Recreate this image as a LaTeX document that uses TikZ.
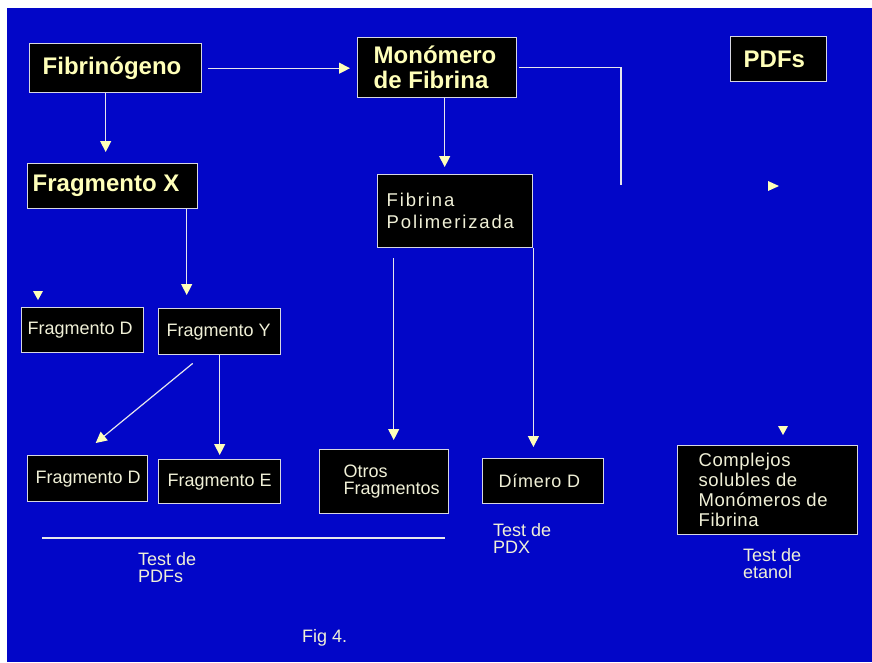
\documentclass[tikz,border=0pt]{standalone}
\usepackage{fontspec}
\setmainfont{Liberation Sans}
\usetikzlibrary{arrows.meta}
\definecolor{bg}{RGB}{2,6,200}
\definecolor{edge}{RGB}{215,215,225}
\definecolor{ylw}{RGB}{255,255,185}
\definecolor{crm}{RGB}{240,240,215}
\definecolor{lnc}{RGB}{230,230,235}
\newcommand\bxt[3]{\parbox{#1pt}{\raggedright\leftskip=#2pt\relax #3}}
\begin{document}
\begin{tikzpicture}[x=1pt,y=-1pt,
  bx/.style={draw=edge, line width=1.4pt, fill=black, inner sep=0pt, anchor=north west},
  boldt/.style={font=\fontsize{24}{25}\selectfont\bfseries, text=ylw},
  regt/.style={font=\fontsize{18}{18}\selectfont, text=crm},
  arr/.style={draw=lnc, line width=1.2pt, -{Triangle[length=11pt,width=11pt,color=ylw]}},
  ln/.style={draw=lnc, line width=1.2pt},
  lbl/.style={anchor=north west, inner sep=0pt, align=left, text=crm, font=\fontsize{18}{17}\selectfont}]
\useasboundingbox (0,0) rectangle (872,662);
\fill[white] (0,0) rectangle (872,662);
\fill[bg] (7,8) rectangle (872,662);

% boxes
\node[bx, boldt, minimum height=49pt] (fib) at (29,43) {\bxt{172}{13}{Fibrinógeno}};
\node[bx, boldt, minimum height=60pt] (mon) at (357,37) {\bxt{159}{16}{Monómero\\de Fibrina}};
\node[bx, boldt, minimum height=45pt] (pdfs) at (730,36) {\bxt{96}{13}{PDFs}};
\node[bx, boldt, minimum height=45pt] (fragx) at (27,163) {\bxt{170}{5}{Fragmento X}};
\node[bx, regt, font=\fontsize{18.5}{22}\selectfont, minimum height=73pt] (fibpol) at (377,174)
  {\bxt{155}{9}{\addfontfeature{LetterSpace=10}Fibrina\\Polimerizada}};
\node[bx, regt, minimum height=45pt] (fragdt) at (21,307) {\bxt{122}{6}{Fragmento D}};
\node[bx, regt, minimum height=46pt] (fragy) at (158,308) {\bxt{122}{8}{Fragmento Y}};
\node[bx, regt, minimum height=46pt] (fragdb) at (27,455) {\bxt{120}{8}{Fragmento D}};
\node[bx, regt, minimum height=44pt] (frage) at (158,459) {\bxt{122}{9}{Fragmento E}};
\node[bx, regt, font=\fontsize{18}{17}\selectfont, minimum height=64pt] (otros) at (319,449)
  {\bxt{129}{24}{Otros\\Fragmentos}};
\node[bx, regt, minimum height=45pt] (dim) at (482,458)
  {\bxt{121}{16}{\addfontfeature{LetterSpace=4}Dímero D}};
\node[bx, regt, font=\fontsize{18.5}{20}\selectfont, minimum height=89pt] (comp) at (677,445)
  {\bxt{180}{21}{\addfontfeature{LetterSpace=3}Complejos\\solubles de\\Monómeros de\\Fibrina}};

% connectors
\draw[arr, shorten <=6pt, shorten >=7pt] (fib.east) -- (fib.east -| mon.west);
\draw[arr, shorten >=11pt] ([xshift=-10pt]fib.south) -- ([xshift=-10pt]fib.south |- fragx.north);
\draw[arr, shorten >=13pt] ([xshift=74pt]fragx.south) -- ([xshift=74pt]fragx.south |- fragy.north);
\draw[arr, shorten >=7pt] ([xshift=7.5pt]mon.south) -- ([xshift=7.5pt]mon.south |- fibpol.north);
\coordinate (mend) at (621,185);
\draw[ln, shorten <=2pt] (mon.east) -| (mend);
\draw[arr] ([shift={(-27,8)}]fragy.south) -- ([shift={(8,-12)}]fragdb.north);
\draw[arr, shorten >=4pt] (fragy.south) -- (fragy.south |- frage.north);
\draw[arr, shorten >=9pt] ([shift={(-61.5,10)}]fibpol.south) -- ([xshift=-61.5pt]fibpol.south |- otros.north);
\draw[arr, shorten >=11pt] (fibpol.south east) -- (fibpol.south east |- dim.north);

% separator line
\coordinate (h1) at (42,538);
\coordinate (h2) at (445,538);
\draw[ln] (h1) -- (h2);

% lone arrowheads
\fill[ylw] (33,291) -- (43,291) -- (38,300) -- cycle;
\fill[ylw] (768,181) -- (779,186) -- (768,191) -- cycle;
\fill[ylw] (778,426) -- (788,426) -- (783,435) -- cycle;

% labels
\node[lbl] (t1) at (138,552) {Test de\\PDFs};
\node[lbl] (t2) at (493,523) {Test de\\PDX};
\node[lbl] (t3) at (743,548) {Test de\\etanol};
\node[lbl] (fig) at (302,629) {Fig 4.};
\end{tikzpicture}
\end{document}
